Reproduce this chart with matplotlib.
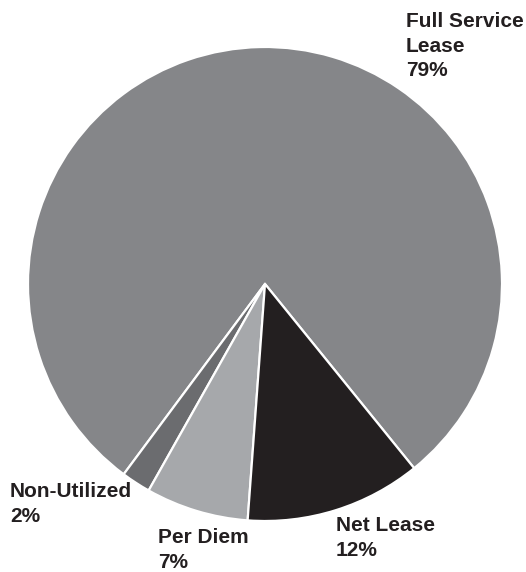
import matplotlib
matplotlib.use("Agg")
import matplotlib.pyplot as plt

labels = ["Full Service\nLease", "Non-Utilized", "Per Diem", "Net Lease"]
shares = [79, 2, 7, 12]
colors = ["#858689", "#6b6c6f", "#a6a8ab", "#231f20"]

# label anchor points (figure pixels from top-left)
label_pos = [(406, 12), (10, 482), (158, 528), (336, 516)]

W, H = 526, 572
fig = plt.figure(figsize=(W / 100, H / 100), dpi=100)
fig.patch.set_facecolor("white")

cx, cy, r = 265, 284, 237
ax = fig.add_axes([(cx - r) / W, 1 - (cy + r) / H, 2 * r / W, 2 * r / H])
ax.pie(shares, colors=colors, startangle=-51, counterclock=True,
       wedgeprops=dict(edgecolor="white", linewidth=1.6))
ax.set_xlim(-1, 1)
ax.set_ylim(-1, 1)
ax.set_aspect("equal")
ax.axis("off")

for lab, val, (x, y) in zip(labels, shares, label_pos):
    fig.text(x / W, 1 - y / H, f"{lab}\n{val}%", ha="left", va="top",
             fontsize=15, fontweight="bold", family="Liberation Sans",
             color="#231f20", linespacing=1.37)

fig.savefig("out.png", dpi=100, facecolor="white")
